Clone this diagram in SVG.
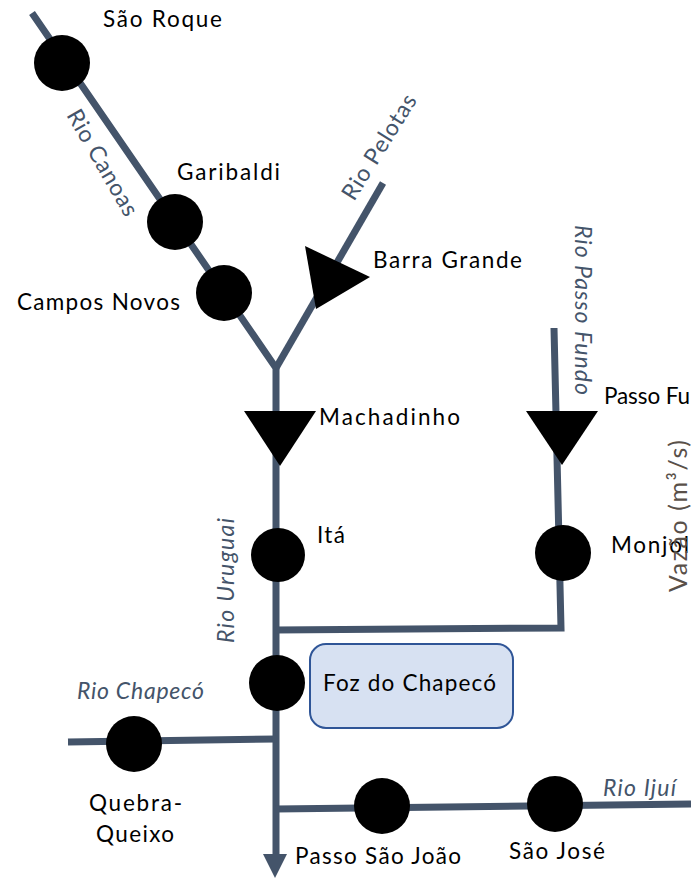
<svg xmlns="http://www.w3.org/2000/svg" width="691" height="879" viewBox="0 0 691 879">
<style>
text{font-family:"Lato","Liberation Sans",sans-serif}
.l{font-size:22.5px;fill:#000}
.r{font-size:23px;fill:#44546a;font-style:italic}
.u{font-size:23px;fill:#44546a}
.c{fill:none;stroke:#44546a;stroke-width:7}
</style>
<rect width="691" height="879" fill="#fff"/>
<g id="connectors">
<path class="c" d="M32 13L276 368L276 858"/>
<path class="c" d="M276 368L383 183"/>
<path class="c" d="M554 328L561 628L276 630"/>
<path class="c" d="M68 742L276 739"/>
<path class="c" d="M276 809L691 804"/>
<path d="M263 854L287 854L275 878Z" fill="#44546a"/>
</g>
<g id="sao-roque"><circle cx="62" cy="63" r="28"/><text class="l" x="103" y="27" textLength="119">São Roque</text></g>
<g id="garibaldi"><circle cx="175" cy="222" r="28"/><text class="l" x="177" y="180" textLength="103">Garibaldi</text></g>
<g id="campos-novos"><circle cx="224" cy="293" r="28"/><text class="l" x="17" y="310" textLength="163">Campos Novos</text></g>
<g id="barra-grande"><path d="M305 246L370 277L316 309Z"/><text class="l" x="373" y="268" textLength="149">Barra Grande</text></g>
<g id="machadinho"><path d="M244 411L316 411L280 466Z"/><text class="l" x="319" y="425" textLength="141">Machadinho</text></g>
<g id="passo-fundo"><path d="M526 411L598 411L562 465Z"/><text class="l" x="604" y="404" textLength="86">Passo Fu</text></g>
<g id="ita"><circle cx="278" cy="555" r="27"/><text class="l" x="317" y="543" textLength="28">Itá</text></g>
<g id="monjolinho"><circle cx="563" cy="553" r="28"/><text class="l" x="611" y="553" textLength="78">Monjol</text></g>
<g id="foz-do-chapeco"><circle cx="277" cy="683" r="28"/><rect x="310" y="644" width="203" height="84" rx="16" fill="#d7e1f2" stroke="#2f5597" stroke-width="2"/><text class="l" x="323" y="691" textLength="173">Foz do Chapecó</text></g>
<g id="quebra-queixo"><circle cx="134" cy="744" r="28"/><text class="l" x="89" y="811" textLength="93">Quebra-</text><text class="l" x="96" y="842" textLength="78">Queixo</text></g>
<g id="passo-sao-joao"><circle cx="382" cy="806" r="28"/><text class="l" x="295" y="864" textLength="166">Passo São João</text></g>
<g id="sao-jose"><circle cx="555" cy="804" r="28"/><text class="l" x="509" y="859" textLength="96">São José</text></g>
<g id="river-labels">
<text class="u" transform="translate(66 115) rotate(60)" textLength="119">Rio Canoas</text>
<text class="u" transform="translate(354 202) rotate(-58)" textLength="120">Rio Pelotas</text>
<text class="r" transform="translate(575 225) rotate(90)" textLength="170">Rio Passo Fundo</text>
<text class="r" transform="translate(234 643) rotate(-90)" textLength="125">Rio Uruguai</text>
<text class="r" x="77" y="699" textLength="127">Rio Chapecó</text>
<text class="r" x="603" y="796" textLength="73">Rio Ijuí</text>
</g>
<g id="axis"><text transform="translate(687 592) rotate(-90)" font-size="25" fill="#595049" textLength="152">Vazão (m³/s)</text></g>
</svg>
